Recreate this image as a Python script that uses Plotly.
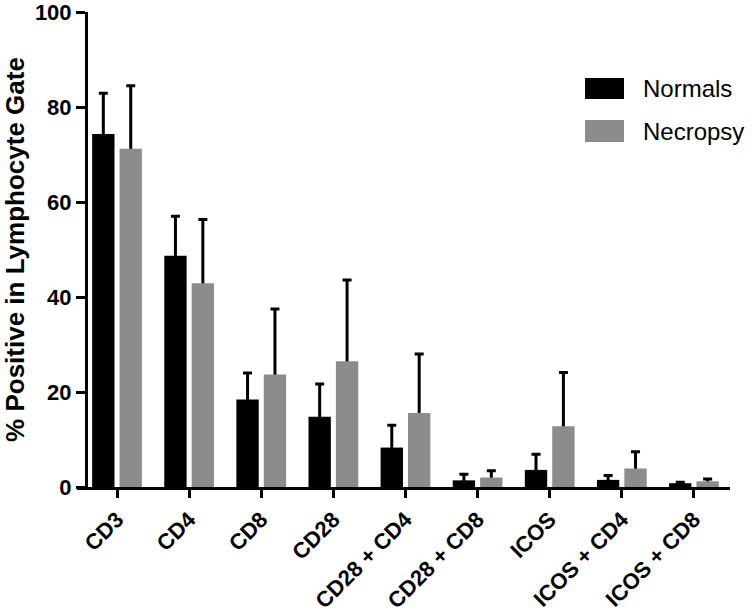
import plotly.graph_objects as go

categories = ["CD3", "CD4", "CD8", "CD28", "CD28 + CD4", "CD28 + CD8", "ICOS", "ICOS + CD4", "ICOS + CD8"]
normals = [74.3, 48.7, 18.4, 14.8, 8.3, 1.4, 3.6, 1.5, 0.8]
normals_err = [8.6, 8.3, 5.6, 6.9, 4.7, 1.3, 3.3, 0.9, 0.2]
necropsy = [71.2, 42.9, 23.7, 26.5, 15.6, 2.0, 12.8, 3.9, 1.2]
necropsy_err = [13.3, 13.4, 13.8, 17.1, 12.4, 1.4, 11.3, 3.5, 0.5]
y_ticks = [0, 20, 40, 60, 80, 100]

series = [
    ("Normals", normals, normals_err, "#000000", -0.345),
    ("Necropsy", necropsy, necropsy_err, "#8c8c8c", 0.035),
]

BAR_W = 0.31
FONT = "Arial, 'Liberation Sans', Helvetica, sans-serif"

fig = go.Figure()

# error bars (drawn first so that the bars cover the part inside them)
for name, vals, errs, color, off in series:
    fig.add_trace(go.Bar(
        x=categories, y=vals, width=BAR_W, offset=off,
        marker=dict(color="rgba(0,0,0,0)", line=dict(width=0)),
        error_y=dict(type="data", symmetric=False, array=errs, arrayminus=vals,
                     color="#000000", thickness=3, width=4.5),
        showlegend=False, hoverinfo="skip",
    ))

for name, vals, errs, color, off in series:
    fig.add_trace(go.Bar(
        x=categories, y=vals, width=BAR_W, offset=off, name=name,
        marker=dict(color=color, line=dict(width=0)),
        showlegend=False,
    ))

L, T, R, B = 77, 12, 24, 127
W, H = 754, 614
pw, ph = W - L - R, H - T - B

def px(x):
    return (x - L) / pw

def py(y):
    return (T + ph - y) / ph

# custom legend with large swatches
leg_rows = [(78, 99), (120, 142)]
for (name, vals, errs, color, off), (y0, y1) in zip(series, leg_rows):
    fig.add_shape(type="rect", xref="paper", yref="paper",
                  x0=px(585), x1=px(624), y0=py(y1), y1=py(y0),
                  fillcolor=color, line=dict(width=0))
    fig.add_annotation(xref="paper", yref="paper", x=px(641), y=py((y0 + y1) / 2),
                       text=name, showarrow=False, xanchor="left", yanchor="middle",
                       font=dict(family=FONT, size=24, color="#000000"))

fig.update_layout(
    width=W, height=H,
    margin=dict(l=L, r=R, t=T, b=B, autoexpand=False),
    paper_bgcolor="white", plot_bgcolor="white",
    barmode="overlay",
    showlegend=False,
    font=dict(family=FONT, color="#000000"),
    xaxis=dict(
        type="category",
        range=[-0.555, 8.5],
        showline=True, linecolor="#000000", linewidth=3,
        ticks="outside", ticklen=8, tickwidth=3, tickcolor="#000000",
        tickangle=-45,
        tickfont=dict(family=FONT, size=22, weight="bold", color="#000000"),
        showgrid=False, zeroline=False, automargin=False,
    ),
    yaxis=dict(
        range=[0, 100],
        anchor="free", position=9 / pw,
        tickvals=y_ticks,
        showline=True, linecolor="#000000", linewidth=3,
        ticks="outside", ticklen=9, tickwidth=3, tickcolor="#000000",
        tickfont=dict(family=FONT, size=22, weight="bold", color="#000000"),
        ticklabeloverflow="allow",
        showgrid=False, zeroline=False, automargin=False,
        title=dict(text="% Positive in Lymphocyte Gate",
                   font=dict(family=FONT, size=26, weight="bold", color="#000000"),
                   standoff=6),
    ),
)

fig.write_html("out.html", config={"displayModeBar": False},
               post_script="document.body.style.margin='0px';")
